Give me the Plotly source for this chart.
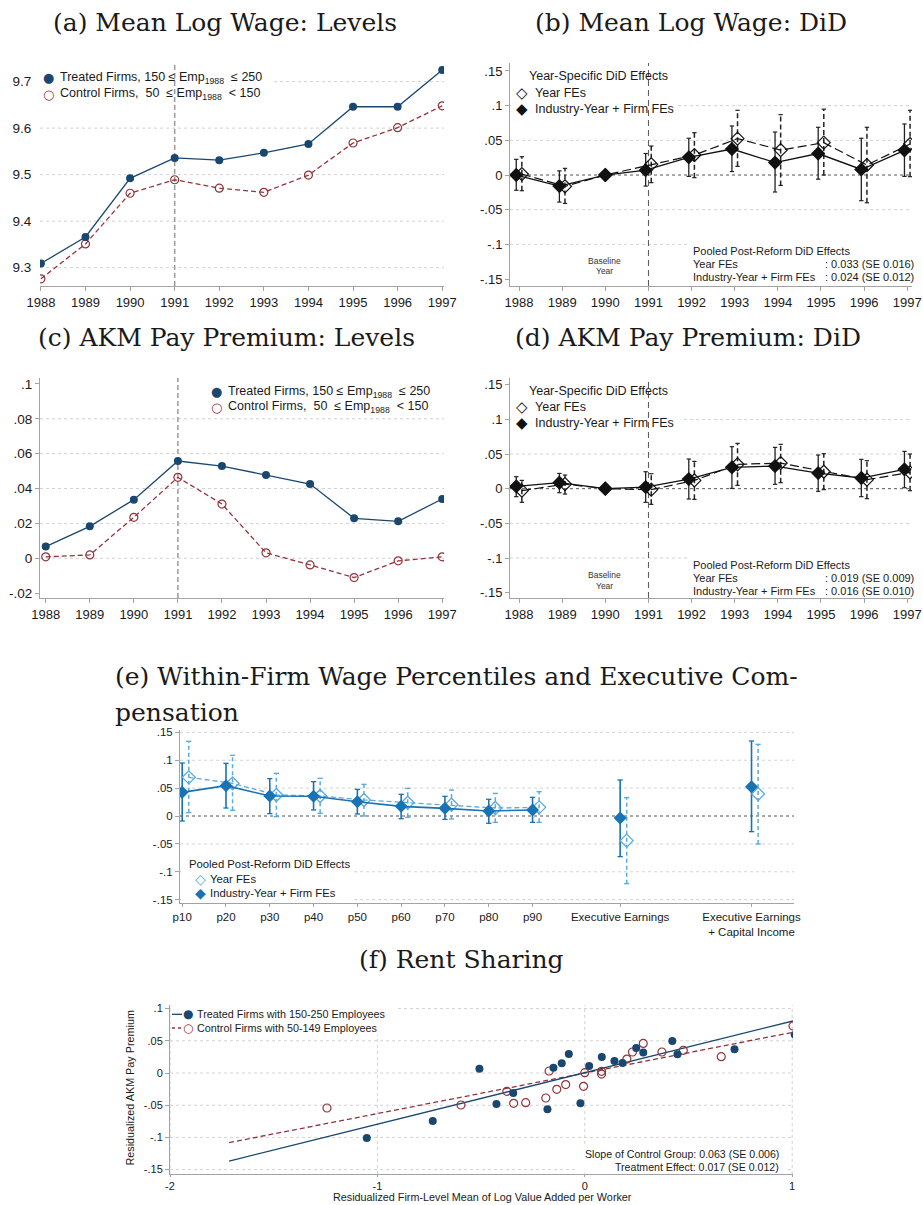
import plotly.graph_objects as go

W, H = 923, 1205
SANS = "Liberation Sans, Arial, sans-serif"
SERIF = "DejaVu Serif, serif"
GLYPH = "DejaVu Sans, sans-serif"

NAVY = "#1a476f"
MAROON = "#90353b"
E_DARK = "#1872b4"
E_LIGHT = "#5aaadd"
GRID = "#d2d2d2"
AXIS = "#a3a3a3"
TXT = "#1a1a1a"

# ---------------------------------------------------------------- data
years = list(range(1988, 1998))
BASE_YEAR = 1990
REFORM_YEAR = 1991

# (a) mean log wage, levels
a_treated = [9.309, 9.366, 9.492, 9.536, 9.531, 9.547, 9.566, 9.646, 9.646, 9.725]
a_control = [9.276, 9.351, 9.460, 9.489, 9.471, 9.462, 9.499, 9.568, 9.601, 9.648]

# (b) mean log wage, year-specific DiD effects with 95% CIs
b_ind = [0.000, -0.016, 0.0, 0.007, 0.0255, 0.0375, 0.018, 0.031, 0.008, 0.0356]
b_ind_lo = [-0.022, -0.039, None, -0.016, -0.002, 0.005, -0.0245, -0.006, -0.037, -0.002]
b_ind_hi = [0.0226, 0.006, None, 0.031, 0.053, 0.0707, 0.062, 0.0688, 0.053, 0.0736]
b_yfe = [0.0014, -0.0163, 0.0, 0.0154, 0.0288, 0.0524, 0.036, 0.0466, 0.0144, 0.0447]
b_yfe_lo = [-0.0226, -0.041, None, -0.011, -0.0038, 0.0125, -0.015, 0.0, -0.040, -0.0024]
b_yfe_hi = [0.0264, 0.0096, None, 0.0418, 0.061, 0.0933, 0.087, 0.095, 0.0688, 0.0933]

# (c) AKM pay premium, levels
c_treated = [0.0067, 0.0183, 0.0336, 0.0558, 0.0529, 0.0478, 0.0426, 0.0229, 0.0212, 0.034]
c_control = [0.0008, 0.0019, 0.0235, 0.0464, 0.0311, 0.0031, -0.0038, -0.0111, -0.0015, 0.0008]

# (d) AKM pay premium, year-specific DiD effects with 95% CIs
d_ind = [0.0034, 0.0087, 0.0, 0.0024, 0.0139, 0.0308, 0.0327, 0.0226, 0.0154, 0.0279]
d_ind_lo = [-0.0115, -0.0058, None, -0.0197, -0.0149, 0.0005, 0.0063, -0.0038, -0.0115, 0.0014]
d_ind_hi = [0.0173, 0.022, None, 0.0245, 0.0428, 0.0606, 0.0596, 0.0486, 0.0423, 0.0538]
d_yfe = [-0.0029, 0.0067, 0.0, -0.0014, 0.012, 0.0351, 0.037, 0.0245, 0.013, 0.0236]
d_yfe_lo = [-0.0197, -0.0077, None, -0.0226, -0.0154, 0.0048, 0.0087, -0.0014, -0.0144, -0.0029]
d_yfe_hi = [0.012, 0.0197, None, 0.0216, 0.0394, 0.0654, 0.064, 0.0505, 0.0404, 0.05]

# (e) pooled DiD effects on within-firm percentiles and executive pay
e_labels = ["p10", "p20", "p30", "p40", "p50", "p60", "p70", "p80", "p90",
            "Executive Earnings", "Executive Earnings<br>+ Capital Income"]
e_ind = [0.0424, 0.0544, 0.0359, 0.0353, 0.0257, 0.0173, 0.0137, 0.009, 0.0108, -0.0036, 0.0526]
e_ind_lo = [-0.009, 0.0143, 0.0042, 0.0108, 0.0036, -0.0048, -0.006, -0.0131, -0.0114, -0.0729, -0.0281]
e_ind_hi = [0.095, 0.0944, 0.067, 0.0616, 0.0478, 0.0389, 0.0353, 0.0299, 0.0335, 0.0646, 0.1345]
e_yfe = [0.0693, 0.0586, 0.0377, 0.0359, 0.0287, 0.0239, 0.0203, 0.0143, 0.0155, -0.0442, 0.0394]
e_yfe_lo = [0.006, 0.0102, -0.0012, 0.0048, 0.0, -0.0024, -0.0054, -0.0114, -0.0114, -0.1213, -0.0502]
e_yfe_hi = [0.134, 0.1088, 0.0765, 0.0675, 0.0568, 0.0496, 0.0466, 0.0406, 0.0436, 0.0329, 0.1285]

# (f) rent sharing: binned residualized value added vs AKM premium
f_treated_x = [-1.051, -0.733, -0.508, -0.426, -0.345, -0.180, -0.151, -0.111, -0.077, -0.021,
               0.021, 0.082, 0.143, 0.182, 0.248, 0.282, 0.422, 0.447, 0.722, 1.012]
f_treated_y = [-0.101, -0.0745, 0.0065, -0.048, -0.031, -0.0564, 0.0083, 0.015, 0.0295, -0.047,
               0.0109, 0.0248, 0.0186, 0.0155, 0.0388, 0.032, 0.0497, 0.029, 0.0368, 0.0595]
f_control_x = [-1.243, -0.597, -0.376, -0.343, -0.285, -0.188, -0.172, -0.135, -0.092, -0.006,
               0.0, 0.081, 0.081, 0.203, 0.230, 0.282, 0.372, 0.475, 0.658, 1.004]
f_control_y = [-0.0543, -0.0497, -0.0285, -0.047, -0.046, -0.0388, 0.0031, -0.0253, -0.018, -0.0207,
               0.0005, 0.0026, -0.0016, 0.0217, 0.0326, 0.046, 0.0326, 0.0352, 0.0253, 0.073]
f_slope_control = 0.063
f_treat_effect = 0.017
f_icpt_control = 0.0
f_icpt_treated = 0.0005
f_fit_range = [-1.715, 1.004]

# ---------------------------------------------------------------- layout constants
DID_SHIFT = 0.065
E_SHIFT = 0.15
E_POS = [0, 1, 2, 3, 4, 5, 6, 7, 8, 10, 13]

fig = go.Figure()
shapes = []
annotations = []


def px(x):
    return x / W


def py(y):
    return 1 - y / H


def dom_x(a, b):
    return [a / W, b / W]


def dom_y(top, bottom):
    return [1 - bottom / H, 1 - top / H]


def add_text(x, y, s, size, color=TXT, xanchor="left", family=SANS, **kw):
    annotations.append(dict(x=px(x), y=py(y), xref="paper", yref="paper", text=s,
                            showarrow=False, xanchor=xanchor, yanchor="middle",
                            align=xanchor if xanchor != "center" else "center",
                            borderpad=0,
                            font=dict(family=family, size=size, color=color), **kw))


def mask(x0, y0, x1, y1):
    shapes.append(dict(type="rect", xref="paper", yref="paper", x0=px(x0), x1=px(x1),
                       y0=py(y1), y1=py(y0), fillcolor="white", line=dict(width=0),
                       layer="below"))


def hline(xa, ya, v, color=GRID, width=1, dash="dot"):
    shapes.append(dict(type="line", xref=f"{xa} domain", yref=ya, x0=0, x1=1, y0=v, y1=v,
                       line=dict(color=color, width=width, dash=dash), layer="below"))


def vline(xa, ya, v, color=GRID, width=1, dash="dot"):
    shapes.append(dict(type="line", xref=xa, yref=f"{ya} domain", x0=v, x1=v, y0=0, y1=1,
                       line=dict(color=color, width=width, dash=dash), layer="below"))


def ci_path(xs, lo, hi):
    X, Y = [], []
    for x, l, h in zip(xs, lo, hi):
        if l is None or h is None:
            continue
        X += [x, x, None]
        Y += [l, h, None]
    return X, Y


def cap_path(xs, lo, hi, half):
    X, Y = [], []
    for x, l, h in zip(xs, lo, hi):
        if l is None or h is None:
            continue
        X += [x - half, x + half, None, x - half, x + half, None]
        Y += [h, h, None, l, l, None]
    return X, Y


def axis(domain, rng, tickvals, ticktext, anchor, size=13, line=True, ticklen=4,
         tickcolor=AXIS):
    return dict(domain=domain, range=rng, tickvals=tickvals, ticktext=ticktext, anchor=anchor,
                showgrid=False, zeroline=False, showline=line, linecolor=AXIS, linewidth=1,
                ticks="outside", ticklen=ticklen, tickcolor=tickcolor, tickwidth=1,
                tickfont=dict(family=SANS, size=size, color=TXT), fixedrange=True,
                automargin=False)


def stata_fmt(v):
    s = f"{v:g}"
    if s.startswith("0."):
        s = s[1:]
    elif s.startswith("-0."):
        s = "-" + s[2:]
    return s


year_text = [str(y) for y in years]

# ---------------------------------------------------------------- (a) levels of log wage
a_ticks = [9.3, 9.4, 9.5, 9.6, 9.7]
for v in a_ticks:
    hline("x", "y", v)
mask(40, 68, 272, 102)
vline("x", "y", REFORM_YEAR, color="#9a9a9a", width=1.5, dash="5px,3px")

fig.add_trace(go.Scatter(x=years, y=a_control, mode="lines+markers", xaxis="x", yaxis="y",
                         line=dict(color=MAROON, width=1.3, dash="5px,3px"),
                         marker=dict(symbol="circle-open", size=8, color=MAROON,
                                     line=dict(width=1.2))))
fig.add_trace(go.Scatter(x=years, y=a_treated, mode="lines+markers", xaxis="x", yaxis="y",
                         line=dict(color=NAVY, width=1.3),
                         marker=dict(symbol="circle", size=8, color=NAVY)))

# ---------------------------------------------------------------- (c) levels of AKM premium
c_ticks = [-0.02, 0, 0.02, 0.04, 0.06, 0.08, 0.1]
for v in c_ticks[1:-1]:
    hline("x3", "y3", v)
vline("x3", "y3", REFORM_YEAR, color="#9a9a9a", width=1.5, dash="5px,3px")

fig.add_trace(go.Scatter(x=years, y=c_control, mode="lines+markers", xaxis="x3", yaxis="y3",
                         line=dict(color=MAROON, width=1.3, dash="5px,3px"),
                         marker=dict(symbol="circle-open", size=8, color=MAROON,
                                     line=dict(width=1.2))))
fig.add_trace(go.Scatter(x=years, y=c_treated, mode="lines+markers", xaxis="x3", yaxis="y3",
                         line=dict(color=NAVY, width=1.3),
                         marker=dict(symbol="circle", size=8, color=NAVY)))


# ---------------------------------------------------------------- (b), (d) DiD event studies
did_ticks = [-0.15, -0.1, -0.05, 0, 0.05, 0.1, 0.15]


def did_panel(xa, ya, ind, ind_lo, ind_hi, yfe, yfe_lo, yfe_hi, legend_box, text_box):
    for v in [-0.1, -0.05, 0.05, 0.1]:
        hline(xa, ya, v)
    mask(*legend_box)
    mask(*text_box)
    hline(xa, ya, 0, color="#555555", width=1, dash="dot")
    vline(xa, ya, REFORM_YEAR, color="#555555", width=1, dash="6px,4px")

    x_ind = [y if y == BASE_YEAR else y - DID_SHIFT for y in years]
    x_yfe = [y if y == BASE_YEAR else y + DID_SHIFT for y in years]
    cap = 0.05

    X, Y = ci_path(x_yfe, yfe_lo, yfe_hi)
    fig.add_trace(go.Scatter(x=X, y=Y, mode="lines", xaxis=xa, yaxis=ya,
                             line=dict(color="#222222", width=1.5, dash="5px,3px")))
    X, Y = cap_path(x_yfe, yfe_lo, yfe_hi, cap)
    fig.add_trace(go.Scatter(x=X, y=Y, mode="lines", xaxis=xa, yaxis=ya,
                             line=dict(color="#222222", width=1.2)))
    X, Y = ci_path(x_ind, ind_lo, ind_hi)
    fig.add_trace(go.Scatter(x=X, y=Y, mode="lines", xaxis=xa, yaxis=ya,
                             line=dict(color="#222222", width=1.3)))
    X, Y = cap_path(x_ind, ind_lo, ind_hi, cap)
    fig.add_trace(go.Scatter(x=X, y=Y, mode="lines", xaxis=xa, yaxis=ya,
                             line=dict(color="#222222", width=1.2)))

    fig.add_trace(go.Scatter(x=x_yfe, y=yfe, mode="lines+markers", xaxis=xa, yaxis=ya,
                             line=dict(color="#111111", width=1.2, dash="9px,4px"),
                             marker=dict(symbol="diamond-open", size=10, color="#111111",
                                         line=dict(width=1.2))))
    fig.add_trace(go.Scatter(x=x_ind, y=ind, mode="lines+markers", xaxis=xa, yaxis=ya,
                             line=dict(color="#111111", width=1.3),
                             marker=dict(symbol="diamond", size=11, color="#111111")))


did_panel("x2", "y2", b_ind, b_ind_lo, b_ind_hi, b_yfe, b_yfe_lo, b_yfe_hi,
          (511, 68, 678, 118), (688, 243, 912, 285))
did_panel("x4", "y4", d_ind, d_ind_lo, d_ind_hi, d_yfe, d_yfe_lo, d_yfe_hi,
          (511, 383, 681, 432), (688, 556, 912, 597))

# ---------------------------------------------------------------- (e) percentiles / executives
e_ticks = [-0.15, -0.1, -0.05, 0, 0.05, 0.1, 0.15]
for v in [-0.15, -0.1, -0.05, 0.05, 0.1, 0.15]:
    hline("x5", "y5", v)
mask(181, 852, 352, 900)
hline("x5", "y5", 0, color="#555555", width=1, dash="dot")

e_x_ind = list(E_POS)
e_x_yfe = [p + E_SHIFT for p in E_POS]
X, Y = ci_path(e_x_yfe, e_yfe_lo, e_yfe_hi)
fig.add_trace(go.Scatter(x=X, y=Y, mode="lines", xaxis="x5", yaxis="y5",
                         line=dict(color=E_LIGHT, width=1.5, dash="4px,3px")))
X, Y = cap_path(e_x_yfe, e_yfe_lo, e_yfe_hi, 0.06)
fig.add_trace(go.Scatter(x=X, y=Y, mode="lines", xaxis="x5", yaxis="y5",
                         line=dict(color=E_LIGHT, width=1.3)))
X, Y = ci_path(e_x_ind, e_ind_lo, e_ind_hi)
fig.add_trace(go.Scatter(x=X, y=Y, mode="lines", xaxis="x5", yaxis="y5",
                         line=dict(color=E_DARK, width=1.6)))
X, Y = cap_path(e_x_ind, e_ind_lo, e_ind_hi, 0.06)
fig.add_trace(go.Scatter(x=X, y=Y, mode="lines", xaxis="x5", yaxis="y5",
                         line=dict(color=E_DARK, width=1.3)))

n_pct = 9
fig.add_trace(go.Scatter(x=e_x_yfe[:n_pct], y=e_yfe[:n_pct], mode="lines+markers",
                         xaxis="x5", yaxis="y5",
                         line=dict(color=E_LIGHT, width=1.3, dash="5px,3px"),
                         marker=dict(symbol="diamond-open", size=10, color=E_LIGHT,
                                     line=dict(width=1.3))))
fig.add_trace(go.Scatter(x=e_x_yfe[n_pct:], y=e_yfe[n_pct:], mode="markers",
                         xaxis="x5", yaxis="y5",
                         marker=dict(symbol="diamond-open", size=10, color=E_LIGHT,
                                     line=dict(width=1.3))))
fig.add_trace(go.Scatter(x=e_x_ind[:n_pct], y=e_ind[:n_pct], mode="lines+markers",
                         xaxis="x5", yaxis="y5", line=dict(color=E_DARK, width=1.6),
                         marker=dict(symbol="diamond", size=10, color=E_DARK)))
fig.add_trace(go.Scatter(x=e_x_ind[n_pct:], y=e_ind[n_pct:], mode="markers",
                         xaxis="x5", yaxis="y5",
                         marker=dict(symbol="diamond", size=10, color=E_DARK)))

# ---------------------------------------------------------------- (f) rent sharing
f_yticks = [-0.15, -0.1, -0.05, 0, 0.05, 0.1]
f_xticks = [-2, -1, 0, 1]
for v in f_yticks:
    hline("x6", "y6", v)
for v in f_xticks:
    vline("x6", "y6", v)
mask(171, 1004, 396, 1035)
mask(575, 1146, 785, 1173)

f_slope_treated = f_slope_control + f_treat_effect
fit_x = list(f_fit_range)
fig.add_trace(go.Scatter(x=fit_x, y=[f_icpt_control + f_slope_control * v for v in fit_x],
                         mode="lines", xaxis="x6", yaxis="y6",
                         line=dict(color=MAROON, width=1.3, dash="5px,3px")))
fig.add_trace(go.Scatter(x=fit_x, y=[f_icpt_treated + f_slope_treated * v for v in fit_x],
                         mode="lines", xaxis="x6", yaxis="y6",
                         line=dict(color=NAVY, width=1.3)))
fig.add_trace(go.Scatter(x=f_control_x, y=f_control_y, mode="markers", xaxis="x6", yaxis="y6",
                         marker=dict(symbol="circle-open", size=8, color=MAROON,
                                     line=dict(width=1.2))))
fig.add_trace(go.Scatter(x=f_treated_x, y=f_treated_y, mode="markers", xaxis="x6", yaxis="y6",
                         marker=dict(symbol="circle", size=8, color=NAVY)))

# ---------------------------------------------------------------- titles
TS = 25
add_text(225, 22, "(a) Mean Log Wage: Levels", TS, family=SERIF, xanchor="center")
add_text(691, 22, "(b) Mean Log Wage: DiD", TS, family=SERIF, xanchor="center")
add_text(226, 337, "(c) AKM Pay Premium: Levels", TS, family=SERIF, xanchor="center")
add_text(688, 337, "(d) AKM Pay Premium: DiD", TS, family=SERIF, xanchor="center")
add_text(114, 676, "(e) Within-Firm Wage Percentiles and Executive Com-", TS, family=SERIF)
add_text(114, 712, "pensation", TS, family=SERIF)
add_text(461, 960, "(f) Rent Sharing", TS, family=SERIF, xanchor="center")

# ---------------------------------------------------------------- legends and notes
NB = "\u00a0"
treated_lbl = f"Treated Firms, 150 ≤ Emp<sub>1988</sub>{NB}{NB}≤ 250"
control_lbl = f"Control Firms, {NB}50 {NB}≤ Emp<sub>1988</sub>{NB}{NB}< 150"

for (sx, tx, y1, y2) in [(48, 59, 77.7, 94.3), (216.7, 227, 391.7, 407.3)]:
    add_text(sx, y1, "●", 13, color=NAVY, xanchor="center", family=GLYPH)
    add_text(sx, y2, "○", 13, color=MAROON, xanchor="center", family=GLYPH)
    add_text(tx, y1, treated_lbl, 12.5)
    add_text(tx, y2, control_lbl, 12.5)

for (ty, r1, r2) in [(76, 92.7, 109), (390.7, 407.3, 422.7)]:
    add_text(528, ty, "Year-Specific DiD Effects", 12.5)
    add_text(521.7, r1, "◇", 15, color="#111111", xanchor="center", family=GLYPH)
    add_text(521.7, r2, "◆", 15, color="#111111", xanchor="center", family=GLYPH)
    add_text(534, r1, "Year FEs", 12.5)
    add_text(534, r2, "Industry-Year + Firm FEs", 12.5)

pooled = [(251, 264, 277.3, ": 0.033 (SE 0.016)", ": 0.024 (SE 0.012)", 604.3, 260.7),
          (565, 578.3, 591.3, ": 0.019 (SE 0.009)", ": 0.016 (SE 0.010)", 604.3, 575)]
for (y0, y1, y2, v1, v2, bx, by) in pooled:
    add_text(691.5, y0, "Pooled Post-Reform DiD Effects", 11)
    add_text(691.5, y1, "Year FEs", 11)
    add_text(691.5, y2, "Industry-Year + Firm FEs", 11)
    add_text(915, y1, v1, 11, xanchor="right")
    add_text(915, y2, v2, 11, xanchor="right")
    add_text(bx, by, "Baseline", 8.5, color="#333333", xanchor="center")
    add_text(bx, by + 10.6, "Year", 8.5, color="#333333", xanchor="center")

add_text(188.3, 864.3, "Pooled Post-Reform DiD Effects", 11.3)
add_text(200, 879.3, "◇", 14, color=E_LIGHT, xanchor="center", family=GLYPH)
add_text(200, 893.3, "◆", 14, color=E_DARK, xanchor="center", family=GLYPH)
add_text(209.3, 879.3, "Year FEs", 11.3)
add_text(209.3, 893.3, "Industry-Year + Firm FEs", 11.3)

shapes.append(dict(type="line", xref="paper", yref="paper", x0=px(172), x1=px(182),
                   y0=py(1014.3), y1=py(1014.3), line=dict(color=NAVY, width=1.3)))
shapes.append(dict(type="line", xref="paper", yref="paper", x0=px(172), x1=px(182),
                   y0=py(1028), y1=py(1028), line=dict(color=MAROON, width=1.3, dash="3px,3px")))
add_text(188.3, 1014.3, "●", 12, color=NAVY, xanchor="center", family=GLYPH)
add_text(188.3, 1028, "○", 12, color=MAROON, xanchor="center", family=GLYPH)
add_text(196, 1014.3, "Treated Firms with 150-250 Employees", 10.8)
add_text(196, 1028, "Control Firms with 50-149 Employees", 10.8)
add_text(780, 1154.3, f"Slope of Control Group: {f_slope_control:.3f} (SE 0.006)", 10.6,
         xanchor="right")
add_text(780, 1166.7, f"Treatment Effect: {f_treat_effect:.3f} (SE 0.012)", 10.6,
         xanchor="right")
add_text(129, 1088.5, "Residualized AKM Pay Premium", 10.8, xanchor="center", textangle=-90)
add_text(482, 1197, "Residualized Firm-Level Mean of Log Value Added per Worker", 10.8,
         xanchor="center")

# ---------------------------------------------------------------- axes
layout_axes = dict(
    xaxis=axis(dom_x(40, 444), [1987.98, 1997.04], years, year_text, "y"),
    yaxis=axis(dom_y(63, 286), [9.2606, 9.740], a_ticks, [f"{v:.1f}" for v in a_ticks], "x",
               size=13.5, line=False, ticklen=5, tickcolor="rgba(0,0,0,0)"),
    xaxis2=axis(dom_x(510, 912), [1987.79, 1997.11], years, year_text, "y2"),
    yaxis2=axis(dom_y(63, 286), [-0.160, 0.1615], did_ticks, [stata_fmt(v) for v in did_ticks],
                "x2"),
    xaxis3=axis(dom_x(40, 444), [1987.87, 1997.04], years, year_text, "y3"),
    yaxis3=axis(dom_y(378, 598), [-0.0228, 0.1034], c_ticks, [stata_fmt(v) for v in c_ticks],
                "x3", size=13.5),
    xaxis4=axis(dom_x(510, 912), [1987.79, 1997.11], years, year_text, "y4"),
    yaxis4=axis(dom_y(378, 598), [-0.1577, 0.1597], did_ticks, [stata_fmt(v) for v in did_ticks],
                "x4"),
    xaxis5=axis(dom_x(180, 794), [-0.05, 13.97], E_POS, e_labels, "y5", size=11.5, ticklen=3),
    yaxis5=axis(dom_y(730, 903), [-0.156, 0.1542], e_ticks, [stata_fmt(v) for v in e_ticks],
                "x5", size=11.5),
    xaxis6=axis(dom_x(170, 793), [-2.0, 1.004], f_xticks, [str(v) for v in f_xticks], "y6",
                size=11, ticklen=2),
    yaxis6=axis(dom_y(1005, 1174), [-0.1568, 0.1056], f_yticks, [stata_fmt(v) for v in f_yticks],
                "x6", size=11),
)

fig.update_layout(
    width=W, height=H, autosize=False,
    margin=dict(l=0, r=0, t=0, b=0),
    paper_bgcolor="white", plot_bgcolor="white",
    showlegend=False,
    shapes=shapes, annotations=annotations,
    **layout_axes,
)

fig.write_html("out.html")
